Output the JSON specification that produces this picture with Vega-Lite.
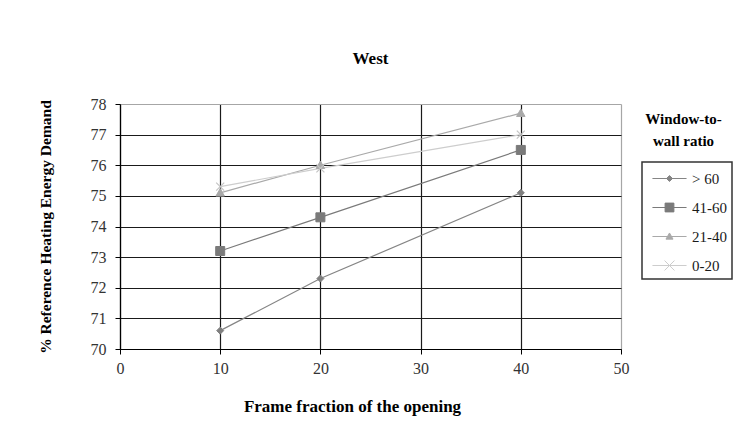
{
  "$schema": "https://vega.github.io/schema/vega-lite/v6.json",
  "width": 501,
  "height": 245,
  "autosize": {"type": "none"},
  "padding": {"left": 120, "top": 104, "right": 128, "bottom": 97},
  "background": "white",
  "title": {
    "text": "West",
    "font": "Liberation Serif",
    "fontSize": 17,
    "fontWeight": "bold",
    "color": "#000000",
    "anchor": "middle",
    "offset": 28
  },
  "data": {
    "values": [
      {"wwr": "> 60", "frame": 10, "demand": 70.6},
      {"wwr": "> 60", "frame": 20, "demand": 72.3},
      {"wwr": "> 60", "frame": 40, "demand": 75.1},
      {"wwr": "41-60", "frame": 10, "demand": 73.2},
      {"wwr": "41-60", "frame": 20, "demand": 74.3},
      {"wwr": "41-60", "frame": 40, "demand": 76.5},
      {"wwr": "21-40", "frame": 10, "demand": 75.1},
      {"wwr": "21-40", "frame": 20, "demand": 76.0},
      {"wwr": "21-40", "frame": 40, "demand": 77.7},
      {"wwr": "0-20", "frame": 10, "demand": 75.3},
      {"wwr": "0-20", "frame": 20, "demand": 75.9},
      {"wwr": "0-20", "frame": 40, "demand": 77.0}
    ]
  },
  "encoding": {
    "x": {"field": "frame", "type": "quantitative", "scale": {"domain": [0, 50]}},
    "y": {"field": "demand", "type": "quantitative", "scale": {"domain": [70, 78]}, "axis": null}
  },
  "layer": [
    {
      "mark": {"type": "line", "strokeWidth": 1.2},
      "encoding": {
        "x": {
          "field": "frame",
          "type": "quantitative",
          "axis": {
            "values": [0, 10, 20, 30, 40, 50],
            "grid": true,
            "gridColor": {"condition": {"test": "datum.value === 50", "value": "#a6a6a6"}, "value": "#1a1a1a"},
            "gridWidth": 1.2,
            "domainColor": "#000000",
            "domainWidth": 1.2,
            "tickColor": "#000000",
            "tickSize": 5,
            "labelFlush": false,
            "labelFont": "Liberation Serif",
            "labelFontSize": 16,
            "labelColor": "#333333",
            "labelPadding": 6,
            "title": "Frame fraction of the opening",
            "titleFont": "Liberation Serif",
            "titleFontSize": 17,
            "titleFontWeight": "bold",
            "titleColor": "#000000",
            "titleX": 232,
            "titleY": 57,
            "titleAlign": "center",
            "titleBaseline": "middle"
          }
        },
        "y": {
          "field": "demand",
          "type": "quantitative",
          "axis": {
            "values": [70, 71, 72, 73, 74, 75, 76, 77, 78],
            "grid": true,
            "gridColor": {"condition": {"test": "datum.value === 78", "value": "#a6a6a6"}, "value": "#1a1a1a"},
            "gridWidth": 1.2,
            "domainColor": "#000000",
            "domainWidth": 1.2,
            "tickColor": "#000000",
            "tickSize": 5,
            "labelFont": "Liberation Serif",
            "labelFontSize": 16,
            "labelColor": "#333333",
            "labelPadding": 9,
            "title": "% Reference Heating Energy Demand",
            "titleFont": "Liberation Serif",
            "titleFontSize": 15.5,
            "titleFontWeight": "bold",
            "titleColor": "#000000",
            "titleX": -75,
            "titleY": 122.5,
            "titleAngle": 270,
            "titleAlign": "center",
            "titleBaseline": "middle"
          }
        },
        "color": {
          "field": "wwr",
          "type": "nominal",
          "scale": {
            "domain": ["> 60", "41-60", "21-40", "0-20"],
            "range": ["#858585", "#7a7a7a", "#a9a9a9", "#cdcdcd"]
          },
          "legend": {
            "title": null,
            "orient": "none",
            "legendX": 522,
            "legendY": 58,
            "padding": 5,
            "strokeColor": "#333333",
            "symbolSize": 484,
            "rowPadding": 9,
            "labelOffset": 22,
            "labelFont": "Liberation Serif",
            "labelFontSize": 15,
            "labelColor": "#1a1a1a",
            "encode": {
              "legend": {"update": {"strokeWidth": {"value": 1.5}}},
              "symbols": {
                "update": {
                  "shape": {"signal": "datum.value === '> 60' ? 'M-0.55,0H2.55M1,-0.27L1.27,0L1,0.27L0.73,0Z' : datum.value === '41-60' ? 'M-0.55,0H2.55M0.6,-0.4H1.4V0.4H0.6Z' : datum.value === '21-40' ? 'M-0.55,0H2.55M1,-0.32L1.32,0.24L0.68,0.24Z' : 'M-0.55,0H2.55M0.55,-0.45L1.45,0.45M1.45,-0.45L0.55,0.45'"},
                  "size": {"value": 484},
                  "fill": {"signal": "scale('color', datum.value)"},
                  "stroke": {"signal": "scale('color', datum.value)"},
                  "strokeWidth": {"value": 1},
                  "opacity": {"value": 1}
                }
              }
            }
          }
        }
      }
    },
    {
      "transform": [{"filter": "datum.wwr === '> 60'"}],
      "mark": {"type": "point", "shape": "M0,-0.7L0.7,0L0,0.7L-0.7,0Z", "size": 100, "filled": true, "opacity": 1, "fill": "#7f7f7f", "stroke": "#7f7f7f", "strokeWidth": 1}
    },
    {
      "transform": [{"filter": "datum.wwr === '41-60'"}],
      "mark": {"type": "point", "shape": "M-0.9,-0.9H0.9V0.9H-0.9Z", "size": 100, "filled": true, "opacity": 1, "fill": "#7a7a7a", "stroke": "#7a7a7a", "strokeWidth": 1}
    },
    {
      "transform": [{"filter": "datum.wwr === '21-40'"}],
      "mark": {"type": "point", "shape": "M0,-0.85L0.85,0.65L-0.85,0.65Z", "size": 100, "filled": true, "opacity": 1, "fill": "#a9a9a9", "stroke": "#a9a9a9", "strokeWidth": 1}
    },
    {
      "transform": [{"filter": "datum.wwr === '0-20'"}],
      "mark": {"type": "point", "shape": "M-0.8,-0.8L0.8,0.8M0.8,-0.8L-0.8,0.8", "size": 100, "filled": false, "opacity": 1, "stroke": "#c4c4c4", "strokeWidth": 1.2},
      "encoding": {
        "y": {
          "field": "demand",
          "type": "quantitative",
          "axis": {
            "orient": "right",
            "domain": false,
            "ticks": false,
            "labels": false,
            "grid": false,
            "title": ["Window-to-", "wall ratio"],
            "titleFont": "Liberation Serif",
            "titleFontSize": 15,
            "titleFontWeight": "bold",
            "titleColor": "#000000",
            "titleAngle": 0,
            "titleX": 62,
            "titleY": 7,
            "titleAlign": "center",
            "titleBaseline": "top",
            "titleLineHeight": 22
          }
        }
      }
    }
  ],
  "resolve": {"axis": {"y": "independent"}},
  "config": {
    "view": {"stroke": null}
  }
}
